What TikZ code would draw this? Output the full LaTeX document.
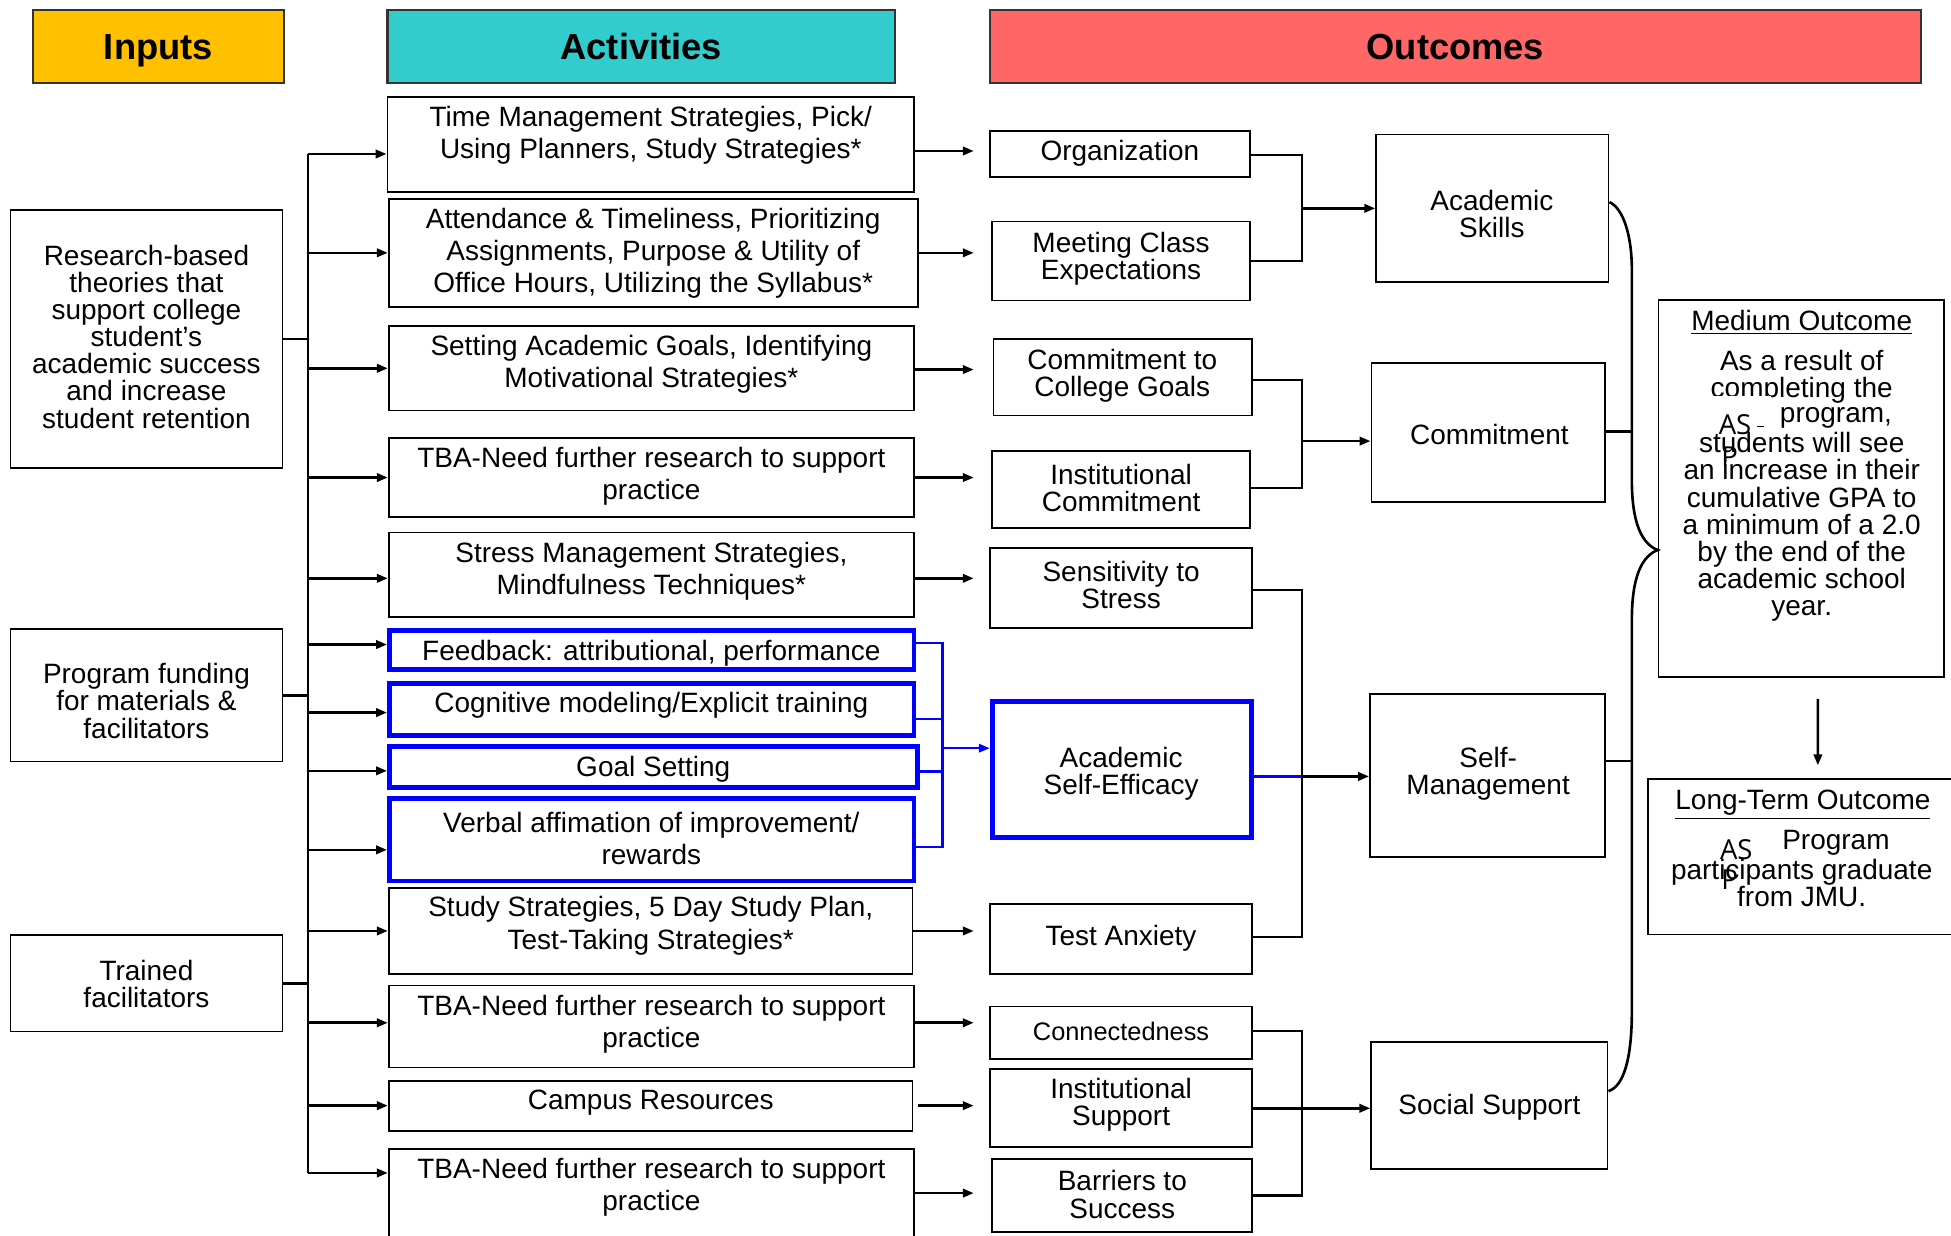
\documentclass[tikz,border=0pt]{standalone}
\usepackage{fontspec}
\setmainfont{Liberation Sans}
\newfontfamily\aspfont{Open Sans}
\usetikzlibrary{fit,calc,arrows.meta}
\definecolor{inputgold}{HTML}{FFC000}
\definecolor{actteal}{HTML}{33CCCC}
\definecolor{outred}{HTML}{FF6666}
\definecolor{linkblue}{HTML}{0000FF}
\begin{document}
\begin{tikzpicture}[x=0.02cm, y=-0.02cm,
  box/.style={draw=black, line width=0.8pt, fill=white, inner sep=0pt},
  bluebox/.style={draw=linkblue, line width=2.2pt, fill=white, inner sep=0pt},
  head/.style={draw=black!80, line width=1pt, inner sep=0pt},
  htxt/.style={inner sep=0pt, anchor=base, font=\fontsize{16.6}{19}\selectfont\bfseries},
  atxt/.style={align=center, inner sep=0pt, font=\fontsize{12.8}{14.7}\selectfont},
  otxt/.style={align=center, inner sep=0pt, font=\fontsize{12.8}{12.4}\selectfont},
  conn/.style={line width=1.2pt, draw=black},
  arr/.style={conn, -{Triangle[length=5pt,width=3.8pt]}},
  bconn/.style={line width=1pt, draw=linkblue},
  barr/.style={bconn, -{Triangle[length=5pt,width=3.8pt]}},
  asptxt/.style={inner sep=0pt, anchor=base west, font=\aspfont\fontsize{12.6}{13}\selectfont},
]
\useasboundingbox (0,0) rectangle (1568,993);
\clip (0,0) rectangle (1568,993);

% ---------- column headers ----------
\node[head, fill=inputgold, fit={(26.6,8) (228,67)}] (hin) {};
\node[htxt] (hin-t) at ($(hin.center)+(0,10)$) {Inputs};
\node[head, fill=actteal, fit={(311.4,8) (719.3,67)}] (hact) {};
\node[htxt] (hact-t) at ($(hact.center)+(0,10)$) {Activities};
\node[head, fill=outred, fit={(795.4,8) (1544,67)}] (hout) {};
\node[htxt] (hout-t) at ($(hout.center)+(0,10.5)$) {Outcomes};

% ---------- inputs ----------
\node[box, fit={(8.5,169) (227,376)}] (in1) {};
\node[otxt] (in1-t) at (117.7,270.6) {Research-based\\theories that\\support college\\student's\\academic success\\and increase\\student retention};
\node[box, fit={(8.5,505.6) (227,612)}] (in2) {};
\node[otxt] (in2-t) at (117.7,563.3) {Program funding\\for materials \&\\facilitators};
\node[box, fit={(8.5,751.5) (227,829)}] (in3) {};
\node[otxt] (in3-t) at (117.7,790.5) {Trained\\facilitators};

% ---------- activities ----------
\node[box, fit={(311.4,77.7) (734.6,154.6)}] (a1) {};
\node[atxt] (a1-t) at (523,109) {Time Management Strategies, Pick/\\Using Planners, Study Strategies*};
\node[box, fit={(312.4,159.7) (737.8,246.7)}] (a2) {};
\node[atxt] (a2-t) at (525,203.7) {Attendance \& Timeliness, Prioritizing\\Assignments, Purpose \& Utility of\\Office Hours, Utilizing the Syllabus*};
\node[box, fit={(312.4,262) (734.6,330)}] (a3) {};
\node[atxt] (a3-t) at (523.5,293) {Setting Academic Goals, Identifying\\Motivational Strategies*};
\node[box, fit={(312.4,352) (734.6,415.6)}] (a4) {};
\node[atxt] (a4-t) at (523.5,383) {TBA-Need further research to support\\practice};
\node[box, fit={(312.4,428) (734.6,495.6)}] (a5) {};
\node[atxt] (a5-t) at (523.5,459) {Stress Management Strategies,\\Mindfulness Techniques*};
\node[bluebox, fit={(313,507) (734.5,538)}] (a6) {};
\node[atxt] (a6-t) at (523.5,525) {Feedback: attributional, performance};
\node[bluebox, fit={(313,549) (734.5,591)}] (a7) {};
\node[atxt] (a7-t) at (523.5,567) {Cognitive modeling/Explicit training};
\node[bluebox, fit={(313,600) (737.5,633)}] (a8) {};
\node[atxt] (a8-t) at (525,618) {Goal Setting};
\node[bluebox, fit={(313,642) (734.5,708)}] (a9) {};
\node[atxt] (a9-t) at (523.5,674) {Verbal affimation of improvement/\\rewards};
\node[box, fit={(312.4,713.4) (733.4,783)}] (a10) {};
\node[atxt] (a10-t) at (523,744) {Study Strategies, 5 Day Study Plan,\\Test-Taking Strategies*};
\node[box, fit={(312.4,792) (734.6,858)}] (a11) {};
\node[atxt] (a11-t) at (523.5,823) {TBA-Need further research to support\\practice};
\node[box, fit={(312.4,868.5) (733.4,908.7)}] (a12) {};
\node[atxt] (a12-t) at (523,886) {Campus Resources};
\node[box, fit={(312.4,923.4) (734.6,1000)}] (a13) {};
\node[atxt] (a13-t) at (523.5,954) {TBA-Need further research to support\\practice};

% ---------- short-term outcomes ----------
\node[box, fit={(795.4,105) (1004.6,142)}] (o1) {};
\node[otxt] (o1-t) at (900,123) {Organization};
\node[box, fit={(797,178) (1004.6,241.6)}] (o2) {};
\node[otxt] (o2-t) at (901,208) {Meeting Class\\Expectations};
\node[box, fit={(798.4,272.7) (1006,334)}] (o3) {};
\node[otxt] (o3-t) at (902,302) {Commitment to\\College Goals};
\node[box, fit={(797,362.7) (1004.6,424.6)}] (o4) {};
\node[otxt] (o4-t) at (901,392) {Institutional\\Commitment};
\node[box, fit={(795.4,440.4) (1006,504.7)}] (o5) {};
\node[otxt] (o5-t) at (901,470) {Sensitivity to\\Stress};
\node[bluebox, fit={(797.4,563.6) (1005.8,673)}] (ase) {};
\node[otxt] (ase-t) at (901,622) {Academic\\Self-Efficacy};
\node[box, fit={(795.4,726.8) (1006,783)}] (o7) {};
\node[otxt] (o7-t) at (901,754) {Test Anxiety};
\node[box, fit={(795.4,809) (1006,851)}] (o8) {};
\node[otxt, font=\fontsize{11.6}{12.4}\selectfont] (o8-t) at (901,829) {Connectedness};
\node[box, fit={(795.4,859.4) (1006,922)}] (o9) {};
\node[otxt] (o9-t) at (901,888) {Institutional\\Support};
\node[box, fit={(797,931.5) (1006,990.3)}] (o10) {};
\node[otxt] (o10-t) at (902,960) {Barriers to\\Success};

% ---------- grouped outcomes ----------
\node[box, fit={(1106,108) (1292.8,226.9)}] (s1) {};
\node[otxt] (s1-t) at (1199,172) {Academic\\Skills};
\node[box, fit={(1102.2,292) (1290,403.6)}] (s2) {};
\node[otxt] (s2-t) at (1197,349) {Commitment};
\node[box, fit={(1101,558) (1290,689)}] (s3) {};
\node[otxt] (s3-t) at (1196,622) {Self-\\Management};
\node[box, fit={(1102,837.4) (1292,939.5)}] (s4) {};
\node[otxt] (s4-t) at (1197,890) {Social Support};

% ---------- medium and long-term outcomes ----------
\node[box, fit={(1333,241.3) (1562.3,544)}] (mo) {};
\node[otxt, anchor=base] (mo-h) at (1448,265.5) {\underline{Medium Outcome}};
\node[otxt] (mo-a) at (1448,303) {As a result of\\completing the};
\fill[white] (1374,318) rectangle (1423,328);
\node[otxt] (mo-b) at (1475.5,336) {program,};
\node[otxt] (mo-c) at (1448,423.5) {students will see\\an increase in their\\cumulative GPA to\\a minimum of a 2.0\\by the end of the\\academic school\\year.};
\node[asptxt] (mo-as) at (1381,349.6) {AS};
\node[asptxt] (mo-p) at (1383,375) {P};
\draw[line width=0.6pt] (1412,343) -- (1418,343);

\node[box, fit={(1324.2,625.8) (1572,751)}] (lt) {};
\node[otxt, anchor=base] (lt-h) at (1449,650.5) {\underline{Long-Term Outcome}};
\node[otxt] (lt-a) at (1475.5,677) {Program};
\node[otxt] (lt-b) at (1448,709.5) {participants graduate\\from JMU.};
\node[asptxt] (lt-as) at (1382,691) {AS};
\node[asptxt] (lt-p) at (1383,715) {P};

% ---------- inputs into the activity trunk ----------
\coordinate (tk) at (247.6,0);
\coordinate (ai1) at ($(a1.west)+(0,7.6)$);
\coordinate (ai2) at (a2.west);
\coordinate (ai3) at (a3.west);
\coordinate (ai4) at (a4.west);
\coordinate (ai5) at ($(a5.west)+(0,3)$);
\coordinate (ai6) at ($(a6.west)+(0,-4.5)$);
\coordinate (ai7) at ($(a7.west)+(0,2.7)$);
\coordinate (ai8) at ($(a8.west)+(0,3)$);
\coordinate (ai9) at ($(a9.west)+(0,8)$);
\coordinate (ai10) at (a10.west);
\coordinate (ai11) at ($(a11.west)+(0,-3)$);
\coordinate (ai12) at (a12.west);
\coordinate (ai13) at ($(a13.north west)+(0,20)$);
\draw[conn] (tk |- ai1) -- (tk |- ai13);
\foreach \n in {1,...,13} \draw[arr] (tk |- ai\n) -- (ai\n);
\foreach \n in {1,2,3} \draw[conn] (in\n.east) -- (tk |- in\n.east);

% ---------- activities towards outcomes ----------
\coordinate (rx) at (782.6,0);
\coordinate (ao1) at ($(a1.east)+(0,5.2)$);
\coordinate (ao2) at (a2.east);
\coordinate (ao3) at ($(a3.east)+(0,1)$);
\coordinate (ao4) at (a4.east);
\coordinate (ao5) at ($(a5.east)+(0,3)$);
\coordinate (ao10) at (a10.east);
\coordinate (ao11) at ($(a11.east)+(0,-3)$);
\coordinate (ao12) at ($(a12.east)+(4,0)$);
\coordinate (ao13) at ($(a13.north east)+(0,36.2)$);
\foreach \n in {1,2,3,4,5,10,11,12,13} \draw[arr] (ao\n) -- (rx |- ao\n);

% ---------- self-efficacy bracket ----------
\coordinate (bx) at (757.5,0);
\coordinate (b6) at ($(a6.east)+(0,-5.5)$);
\coordinate (b7) at ($(a7.east)+(0,8)$);
\coordinate (b8) at ($(a8.east)+(0,3.5)$);
\coordinate (b9) at ($(a9.east)+(0,6)$);
\coordinate (bin) at ($(ase.west)+(0,-17)$);
\draw[bconn] (b6) -- (bx |- b6) -- (bx |- b9) -- (b9);
\draw[bconn] (b7) -- (bx |- b7);
\draw[bconn] (b8) -- (bx |- b8);
\draw[barr] (bx |- bin) -- (bin);

% ---------- outcome groupings ----------
\coordinate (jx) at (1046.5,0);
\coordinate (j1) at ($(o1.east)+(0,1)$);
\draw[conn] (j1) -- (jx |- j1) -- (jx |- o2.east) -- (o2.east);
\draw[arr] (jx |- s1.west) -- (s1.west);

\coordinate (j3) at ($(o3.east)+(0,2)$);
\coordinate (j4) at ($(o4.east)+(0,-1.5)$);
\coordinate (j2in) at ($(s2.west)+(0,6.7)$);
\draw[conn] (j3) -- (jx |- j3) -- (jx |- j4) -- (j4);
\draw[arr] (jx |- j2in) -- (j2in);

\coordinate (j5) at ($(o5.east)+(0,1.5)$);
\coordinate (j7) at ($(o7.east)+(0,-2)$);
\coordinate (jse) at ($(ase.east)+(0,5.7)$);
\draw[conn] (j5) -- (jx |- j5) -- (jx |- j7) -- (j7);
\draw[bconn] (jse) -- (jx |- jse);
\draw[arr] (jx |- jse) -- (s3.west |- jse);

\coordinate (j8) at ($(o8.east)+(0,-1.4)$);
\draw[conn] (j8) -- (jx |- j8) -- (jx |- o10.east) -- (o10.east);
\draw[arr] (o9.east) -- (s4.west |- o9.east);

% ---------- brace into the medium outcome ----------
\coordinate (bv) at (1311.5,0);
\coordinate (tip) at ($(mo.west)+(0,49.4)$);
\coordinate (br1) at ($(s1.east)+(0,-5)$);
\coordinate (br4) at ($(s4.east)+(0,-11.5)$);
\draw[conn] (br1) .. controls +(11,5) and +(0,-28) .. (bv |- 0,217)
  -- (bv |- 0,386) .. controls +(0,34) and +(-13,-5) .. (tip)
  .. controls +(-13,5) and +(0,-34) .. (bv |- 0,498)
  -- (bv |- 0,812) .. controls +(0,40) and +(12,-4) .. (br4);
\coordinate (br2) at ($(s2.east)+(0,-1)$);
\coordinate (br3) at ($(s3.east)+(0,-12)$);
\draw[conn] (br2) -- (bv |- br2);
\draw[conn] (br3) -- (bv |- br3);

% ---------- medium to long-term ----------
\draw[arr] ($(mo.south)+(13.3,17)$) -- ($(lt.north)+(12.9,-10)$);
\end{tikzpicture}
\end{document}
